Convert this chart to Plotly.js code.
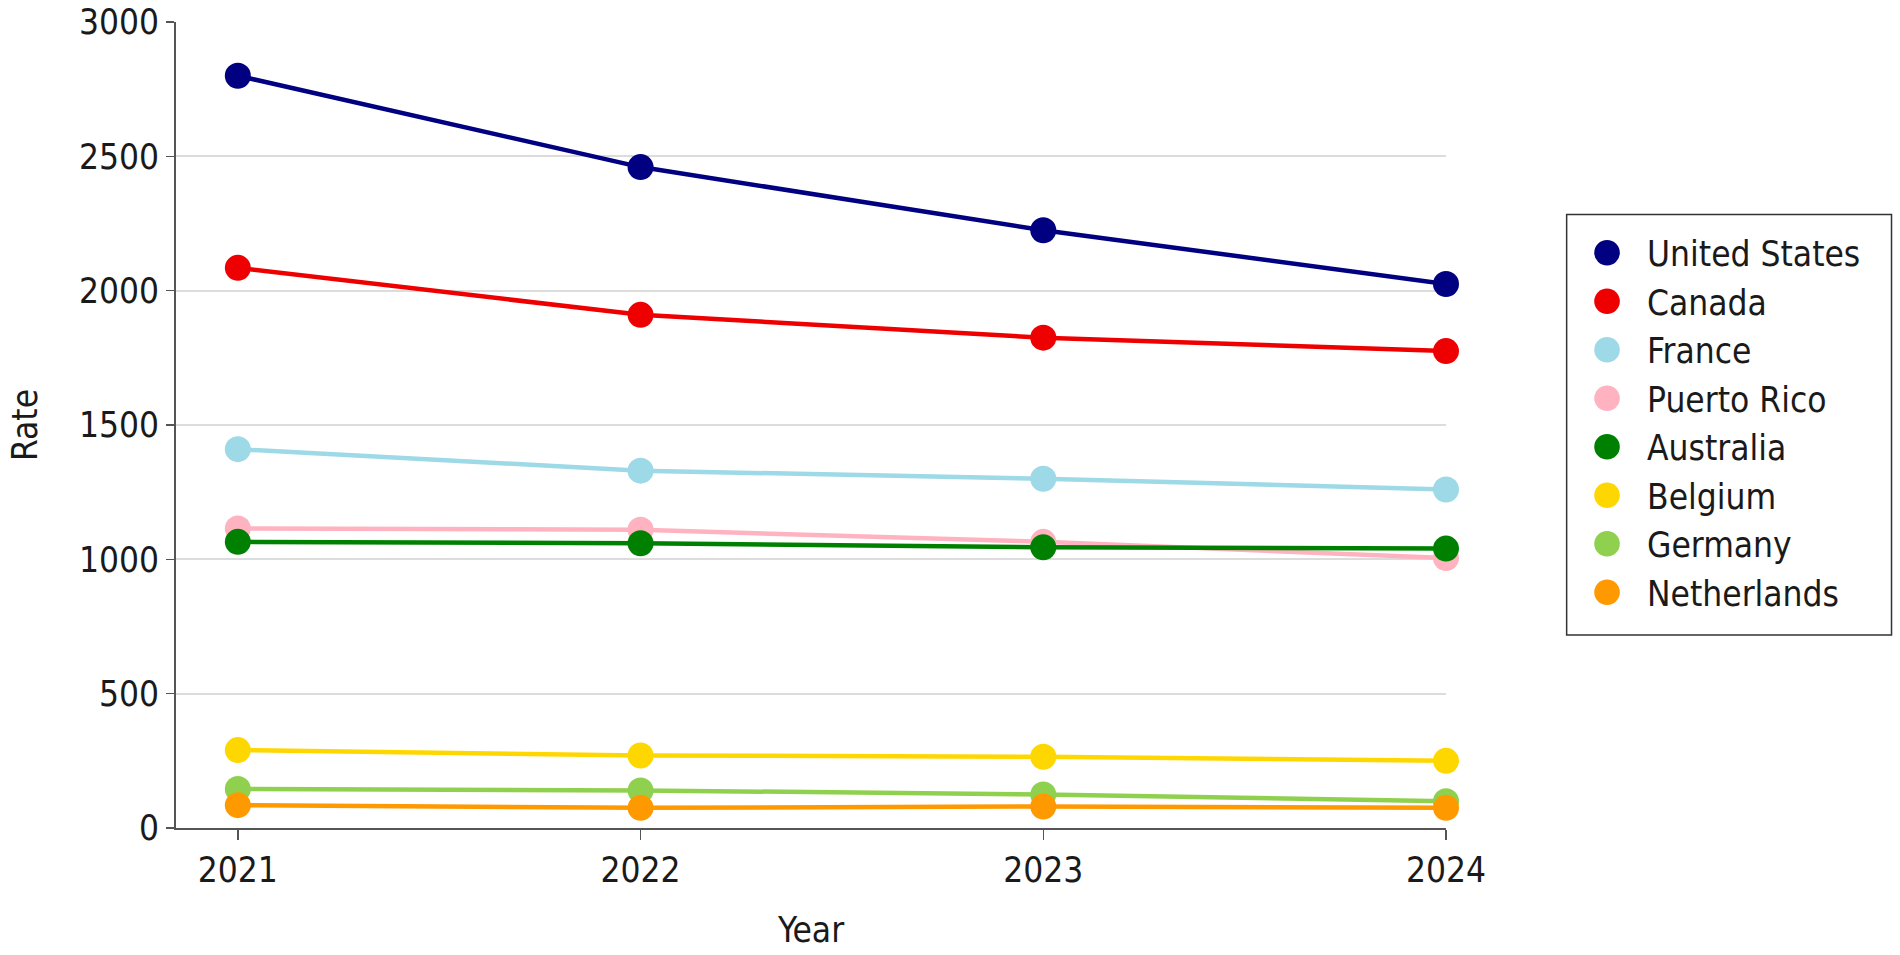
<!DOCTYPE html>
<html>
<head>
<meta charset="utf-8">
<script src="https://cdn.plot.ly/plotly-3.0.1.min.js"></script>
<style>html,body{margin:0;padding:0;background:#fff;}#chart{width:1900px;height:955px;}</style>
</head>
<body>
<div id="chart"></div>
<script>
const years = [2021, 2022, 2023, 2024];
const countries = ["United States", "Canada", "France", "Puerto Rico", "Australia", "Belgium", "Germany", "Netherlands"];
const unitedStates = [2800, 2460, 2225, 2025];
const canada = [2085, 1910, 1825, 1775];
const france = [1410, 1330, 1300, 1260];
const puertoRico = [1115, 1110, 1065, 1005];
const australia = [1065, 1060, 1045, 1040];
const belgium = [290, 270, 265, 250];
const germany = [145, 140, 125, 100];
const netherlands = [85, 75, 80, 75];
const colors = ["#000080", "#ee0000", "#9dd9e6", "#ffb3c1", "#008000", "#ffd700", "#8fd14f", "#ff9900"];

const seriesValues = [unitedStates, canada, france, puertoRico, australia, belgium, germany, netherlands];
const FONT = "'DejaVu Sans Condensed', 'Liberation Sans Narrow', sans-serif";

const traces = [];
countries.forEach((name, i) => {
  traces.push({
    x: years, y: seriesValues[i], name: name, type: "scatter", mode: "lines",
    line: {color: colors[i], width: 4.5}, showlegend: false, hoverinfo: "skip", cliponaxis: false
  });
  traces.push({
    x: years, y: seriesValues[i], name: name, type: "scatter", mode: "markers",
    marker: {color: colors[i], size: 26}, showlegend: true, cliponaxis: false
  });
});

const layout = {
  width: 1900, height: 955,
  margin: {l: 176, r: 454, t: 22, b: 127},
  paper_bgcolor: "#ffffff", plot_bgcolor: "#ffffff",
  font: {family: FONT, size: 35, color: "#1a1a1a"},
  xaxis: {
    range: [2020.8465, 2024], tickvals: years, ticktext: years.map(String),
    showgrid: false, zeroline: false, showline: true, linecolor: "#555", linewidth: 2,
    ticks: "outside", ticklen: 10, tickwidth: 1.5, tickcolor: "#555",
    title: {text: "Year", standoff: 28, font: {family: FONT, size: 35}}
  },
  yaxis: {
    range: [0, 3000], dtick: 500, tickformat: "d",
    showgrid: true, gridcolor: "#dcdcdc", gridwidth: 2, zeroline: false,
    showline: true, linecolor: "#555", linewidth: 2,
    ticks: "outside", ticklen: 8, tickwidth: 1.5, tickcolor: "#555",
    title: {text: "Rate", standoff: 31, font: {family: FONT, size: 35}}
  },
  legend: {
    x: 1.0953, xanchor: "left", y: 0.750, yanchor: "top",
    borderwidth: 0, bgcolor: "rgba(0,0,0,0)",
    itemwidth: 70, tracegroupgap: 0,
    font: {family: FONT, size: 35, color: "#1a1a1a"}
  },
  shapes: [{
    type: "rect", xref: "paper", yref: "paper",
    x0: 1.0950, x1: 1.3508, y0: 0.2395, y1: 0.7612,
    line: {color: "#333", width: 1.5}, fillcolor: "rgba(0,0,0,0)", layer: "below"
  }],
  showlegend: true
};

Plotly.newPlot("chart", traces, layout, {displayModeBar: false, staticPlot: true}).then(function (gd) {
  gd.querySelectorAll(".legend .legendpoints path").forEach(function (p) {
    const t = p.getAttribute("transform") || "";
    p.setAttribute("transform", t + " scale(1.6)");
  });
});
</script>
</body>
</html>
